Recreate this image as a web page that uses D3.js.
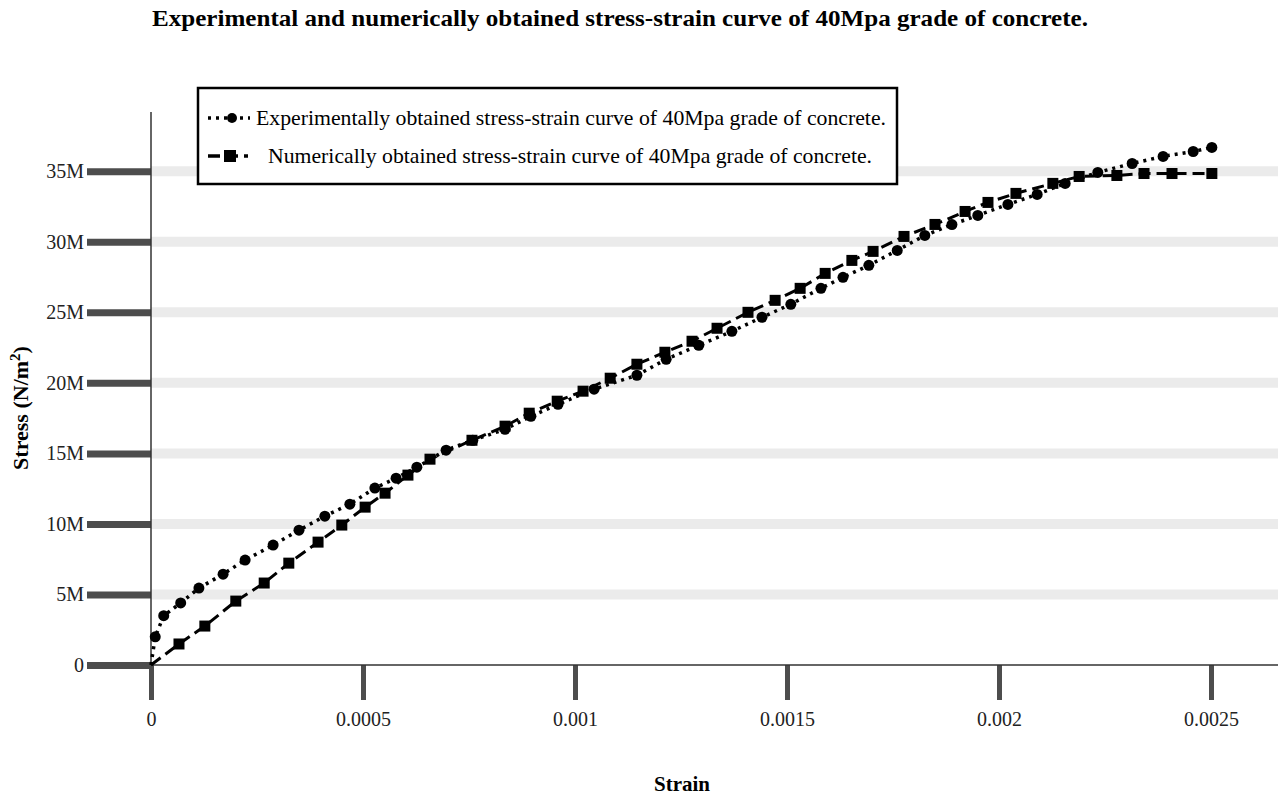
<!DOCTYPE html>
<html>
<head>
<meta charset="utf-8">
<script src="https://cdn.jsdelivr.net/npm/d3@7"></script>
<style>
  body { margin: 0; background: #fff; }
  text { font-family: "Liberation Serif", "Times New Roman", serif; }
</style>
</head>
<body>
<svg width="1281" height="797"></svg>
<script>
// experimental points (strain, stress in N/m2)
var expStrain = [0, 0.00001, 0.00003, 0.00007, 0.000113, 0.00017, 0.000222, 0.000288, 0.000349, 0.00041,
  0.000469, 0.000528, 0.000578, 0.000627, 0.000696, 0.000759, 0.000835, 0.000896, 0.00096, 0.001045,
  0.001146, 0.001215, 0.001292, 0.00137, 0.001441, 0.001509, 0.00158, 0.001632, 0.001693, 0.00176,
  0.001825, 0.001889, 0.00195, 0.002021, 0.00209, 0.002156, 0.002233, 0.002314, 0.002387, 0.002458, 0.002502];
var expStress = [0, 2.0, 3.5, 4.4, 5.45, 6.44, 7.44, 8.5, 9.56, 10.55,
  11.4, 12.54, 13.24, 14.02, 15.23, 15.93, 16.71, 17.63, 18.48, 19.55,
  20.54, 21.67, 22.66, 23.65, 24.65, 25.57, 26.7, 27.48, 28.33, 29.39,
  30.45, 31.22, 31.87, 32.65, 33.36, 34.14, 34.92, 35.55, 36.05, 36.4, 36.69];

// numerical points
var numStrain = [0, 0.000066, 0.000127, 0.0002, 0.000267, 0.000325, 0.000394, 0.00045, 0.000505, 0.000552,
  0.000606, 0.000658, 0.000757, 0.000835, 0.000892, 0.000958, 0.001019, 0.001083, 0.001146, 0.001212,
  0.001276, 0.001335, 0.001408, 0.001472, 0.001531, 0.00159, 0.001653, 0.001703, 0.001776, 0.001849,
  0.00192, 0.001974, 0.00204, 0.002127, 0.002189, 0.002278, 0.002342, 0.002408, 0.002502];
var numStress = [0, 1.49, 2.76, 4.53, 5.81, 7.22, 8.71, 9.92, 11.19, 12.18,
  13.46, 14.59, 15.93, 16.93, 17.85, 18.7, 19.41, 20.33, 21.32, 22.17,
  22.95, 23.87, 25.0, 25.85, 26.7, 27.76, 28.68, 29.32, 30.38, 31.23,
  32.15, 32.79, 33.43, 34.14, 34.63, 34.7, 34.84, 34.84, 34.84];

var xTicks = [0, 0.0005, 0.001, 0.0015, 0.002, 0.0025];
var yTicks = [0, 5e6, 10e6, 15e6, 20e6, 25e6, 30e6, 35e6];

var titleText = "Experimental and numerically obtained stress-strain curve of 40Mpa grade of concrete.";
var legendNames = ["Experimentally obtained stress-strain curve of 40Mpa grade of concrete.",
                   "Numerically obtained stress-strain curve of 40Mpa grade of concrete."];

var svg = d3.select("svg");

var x = d3.scaleLinear().domain([0, 0.002658]).range([151, 1278]),
    y = d3.scaleLinear().domain([0, 39.2e6]).range([665, 112]);

var expData = expStrain.map((s, i) => [s, expStress[i] * 1e6]),
    numData = numStrain.map((s, i) => [s, numStress[i] * 1e6]);

// grid bands
svg.append("g")
  .selectAll("line")
  .data(yTicks.slice(1))
  .enter().append("line")
    .attr("x1", x(0)).attr("x2", 1278)
    .attr("y1", d => y(d)).attr("y2", d => y(d))
    .attr("stroke", "#ebebeb")
    .attr("stroke-width", 10);

// y axis
var yAxis = svg.append("g")
  .attr("transform", "translate(" + x(0) + ",0)")
  .call(d3.axisLeft(y).tickValues(yTicks).tickFormat(d3.format("~s")).tickSize(64).tickPadding(3));
yAxis.select(".domain").remove();
yAxis.selectAll(".tick line").attr("stroke", "#4d4d4d").attr("stroke-width", 7);
yAxis.selectAll(".tick text")
  .style("font-family", "Liberation Serif").style("font-size", "20px").attr("fill", "#222");

// x axis
var xAxis = svg.append("g")
  .attr("transform", "translate(0," + y(0) + ")")
  .call(d3.axisBottom(x).tickValues(xTicks).tickFormat(d => String(d)).tickSize(35).tickPadding(12));
xAxis.select(".domain").remove();
xAxis.selectAll(".tick line").attr("stroke", "#4d4d4d").attr("stroke-width", 5);
xAxis.selectAll(".tick text")
  .style("font-family", "Liberation Serif").style("font-size", "20px").attr("fill", "#222");

// axis lines
svg.append("line").attr("x1", x(0)).attr("x2", x(0)).attr("y1", 112).attr("y2", y(0))
  .attr("stroke", "#333").attr("stroke-width", 1.5);
svg.append("line").attr("x1", x(0)).attr("x2", 1278).attr("y1", y(0)).attr("y2", y(0))
  .attr("stroke", "#333").attr("stroke-width", 1.5);

var line = d3.line().x(d => x(d[0])).y(d => y(d[1]));

// numerical
svg.append("path").datum(numData)
  .attr("d", line).attr("fill", "none")
  .attr("stroke", "#000").attr("stroke-width", 3).attr("stroke-dasharray", "12,6");
svg.append("g").selectAll("rect").data(numData.slice(1)).enter().append("rect")
  .attr("x", d => x(d[0]) - 5.5).attr("y", d => y(d[1]) - 5.5)
  .attr("width", 11).attr("height", 11).attr("fill", "#000");

// experimental
svg.append("path").datum(expData)
  .attr("d", line).attr("fill", "none")
  .attr("stroke", "#000").attr("stroke-width", 3.5).attr("stroke-dasharray", "3,5");
svg.append("g").selectAll("circle").data(expData.slice(1)).enter().append("circle")
  .attr("cx", d => x(d[0])).attr("cy", d => y(d[1])).attr("r", 5.5).attr("fill", "#000");

// title
svg.append("text").attr("x", 152).attr("y", 26)
  .attr("textLength", 936).attr("lengthAdjust", "spacingAndGlyphs")
  .style("font-size", "24px").style("font-weight", "bold").text(titleText);

// axis titles
svg.append("text").attr("x", 682).attr("y", 791).attr("text-anchor", "middle")
  .style("font-size", "21px").style("font-weight", "bold").text("Strain");
var yl = svg.append("text").attr("transform", "translate(28,408) rotate(-90)")
  .attr("text-anchor", "middle").style("font-size", "22px").style("font-weight", "bold");
yl.append("tspan").text("Stress (N/m");
yl.append("tspan").attr("dy", -8).style("font-size", "15px").text("2");
yl.append("tspan").attr("dy", 8).text(")");

// legend
var lg = svg.append("g");
lg.append("rect").attr("x", 198).attr("y", 88).attr("width", 699).attr("height", 96)
  .attr("fill", "#fff").attr("stroke", "#000").attr("stroke-width", 2.5);
lg.append("line").attr("x1", 208).attr("x2", 250).attr("y1", 118).attr("y2", 118)
  .attr("stroke", "#000").attr("stroke-width", 3.5).attr("stroke-dasharray", "3,5");
lg.append("circle").attr("cx", 232).attr("cy", 118).attr("r", 5).attr("fill", "#000");
lg.append("line").attr("x1", 208).attr("x2", 248).attr("y1", 156).attr("y2", 156)
  .attr("stroke", "#000").attr("stroke-width", 3.5).attr("stroke-dasharray", "12,6");
lg.append("rect").attr("x", 224).attr("y", 150).attr("width", 12).attr("height", 12).attr("fill", "#000");
var legX = [256, 268], legW = [630, 604];
lg.selectAll("text.lt").data(legendNames).enter().append("text").attr("class", "lt")
  .attr("x", (d, i) => legX[i]).attr("y", (d, i) => 125 + i * 38)
  .attr("textLength", (d, i) => legW[i]).attr("lengthAdjust", "spacingAndGlyphs")
  .style("font-size", "21px").text(d => d);
</script>
</body>
</html>
